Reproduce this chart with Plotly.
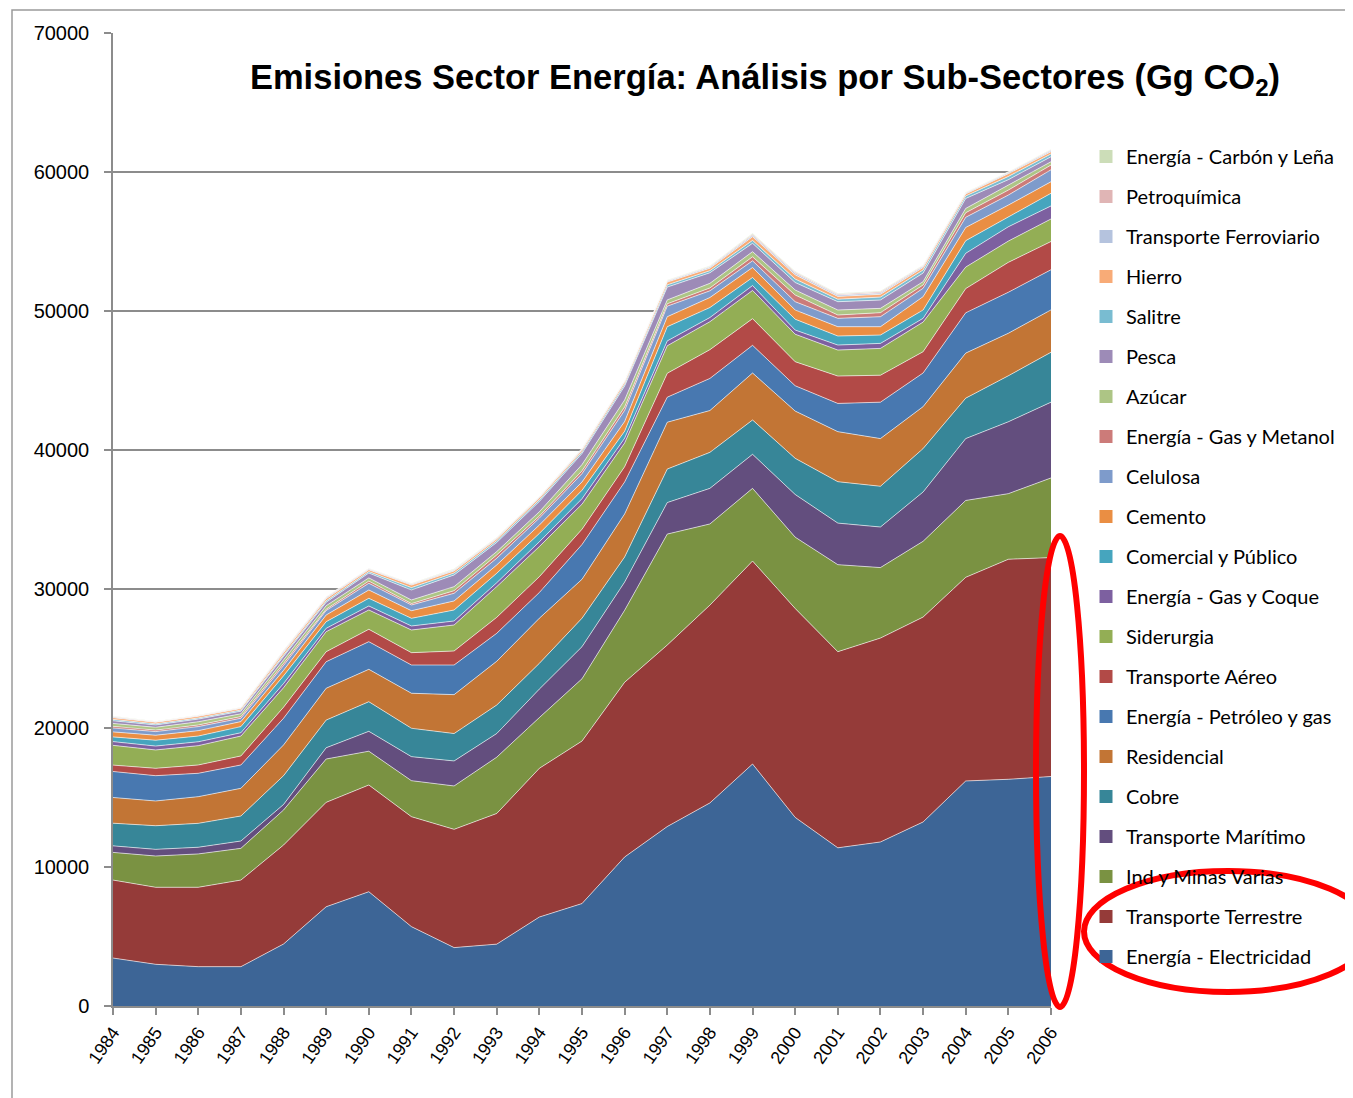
import plotly.graph_objects as go

years = list(range(1984, 2007))

# Series values (Gg CO2), bottom of the stack first
electricidad = [3450, 3000, 2830, 2830, 4460, 7140, 8220, 5710, 4200, 4450, 6400, 7370, 10720, 12910, 14610, 17410, 13570, 11380, 11800, 13240, 16190, 16310, 16510]
terrestre    = [5610, 5540, 5710, 6230, 7120, 7510, 7680, 7910, 8510, 9400, 10700, 11690, 12570, 13060, 14230, 14600, 15030, 14110, 14670, 14740, 14650, 15830, 15750]
ind_minas    = [1990, 2250, 2400, 2280, 2520, 3120, 2430, 2590, 3120, 4050, 3650, 4480, 5180, 7980, 5840, 5230, 5130, 6260, 5070, 5450, 5530, 4720, 5730]
maritimo     = [470, 480, 480, 530, 400, 810, 1430, 1730, 1800, 1700, 2050, 2310, 2030, 2270, 2560, 2450, 3070, 2990, 2920, 3550, 4450, 5170, 5450]
cobre        = [1630, 1700, 1720, 1800, 2070, 1990, 2130, 2040, 1970, 2050, 1850, 2050, 1800, 2410, 2590, 2470, 2600, 2980, 2930, 3120, 2910, 3310, 3590]
residencial  = [1850, 1780, 1920, 1990, 2210, 2290, 2330, 2520, 2800, 3150, 3250, 2800, 3100, 3370, 3010, 3380, 3400, 3600, 3430, 3020, 3240, 3060, 3050]
petroleo_gas = [1870, 1820, 1680, 1680, 1920, 1910, 1990, 2030, 2130, 2010, 1850, 2500, 2300, 1800, 2310, 1990, 1820, 2030, 2620, 2420, 2900, 2950, 2890]
aereo        = [460, 530, 600, 650, 800, 720, 890, 890, 1010, 1150, 1140, 1100, 1100, 1720, 2070, 1920, 1730, 1970, 1940, 1530, 1740, 2150, 2030]
siderurgia   = [1420, 1320, 1390, 1430, 1400, 1440, 1390, 1630, 1870, 2210, 2160, 1800, 1700, 1980, 2010, 2030, 1980, 1870, 1930, 2130, 1550, 1530, 1620]
gas_coque    = [270, 280, 280, 240, 300, 240, 290, 290, 290, 280, 350, 400, 350, 350, 300, 350, 300, 360, 360, 270, 990, 1030, 940]
comercial    = [340, 420, 410, 440, 550, 480, 550, 550, 790, 680, 600, 600, 500, 1020, 720, 580, 780, 650, 600, 600, 910, 720, 910]
cemento      = [360, 360, 390, 360, 400, 480, 600, 550, 650, 600, 600, 600, 700, 720, 720, 720, 660, 670, 600, 960, 950, 840, 830]
celulosa     = [280, 260, 290, 240, 350, 320, 480, 410, 550, 480, 500, 600, 800, 760, 480, 480, 600, 600, 720, 600, 730, 720, 860]
gas_metanol  = [120, 110, 120, 120, 150, 100, 160, 100, 190, 240, 150, 200, 250, 170, 210, 290, 480, 240, 290, 240, 330, 360, 340]
azucar       = [210, 200, 230, 200, 250, 250, 230, 260, 290, 240, 310, 450, 500, 280, 330, 370, 360, 360, 310, 240, 310, 360, 240]
pesca        = [190, 170, 190, 190, 250, 250, 350, 720, 840, 660, 740, 800, 1000, 920, 760, 600, 540, 600, 600, 620, 720, 390, 360]
salitre      = [100, 80, 80, 80, 100, 100, 100, 170, 140, 130, 120, 130, 150, 160, 150, 210, 250, 180, 210, 220, 180, 230, 200]
hierro       = [120, 110, 120, 110, 170, 150, 130, 180, 150, 120, 130, 120, 150, 200, 180, 270, 300, 200, 200, 180, 140, 200, 160]
ferroviario  = [60, 30, 40, 40, 70, 70, 50, 60, 60, 50, 50, 50, 50, 70, 80, 100, 120, 100, 100, 90, 60, 70, 80]
petroquimica = [35, 20, 30, 30, 60, 50, 40, 40, 40, 40, 30, 40, 30, 40, 50, 80, 80, 70, 80, 50, 30, 40, 60]
carbon_lena  = [25, 20, 20, 20, 50, 30, 30, 30, 50, 30, 30, 30, 20, 40, 40, 60, 60, 50, 60, 40, 30, 30, 40]

series_names = [
    "Energía - Electricidad", "Transporte Terrestre", "Ind y Minas Varias",
    "Transporte Marítimo", "Cobre", "Residencial", "Energía - Petróleo y gas",
    "Transporte Aéreo", "Siderurgia", "Energía - Gas y Coque",
    "Comercial y Público", "Cemento", "Celulosa", "Energía - Gas y Metanol",
    "Azúcar", "Pesca", "Salitre", "Hierro", "Transporte Ferroviario",
    "Petroquímica", "Energía - Carbón y Leña",
]
series_values = [
    electricidad, terrestre, ind_minas, maritimo, cobre, residencial,
    petroleo_gas, aereo, siderurgia, gas_coque, comercial, cemento, celulosa,
    gas_metanol, azucar, pesca, salitre, hierro, ferroviario, petroquimica,
    carbon_lena,
]
series_colors = [
    "#3D6596", "#953B39", "#7A9242", "#634E7E", "#378698", "#C27535",
    "#4878B0", "#B24A47", "#93AE55", "#7D60A0", "#46A5BE", "#EA8E43",
    "#7E9BCB", "#CC7B79", "#ADC585", "#9D8BB7", "#79BCD1", "#F8AB77",
    "#B5C3DE", "#E0B5B5", "#CCDDB8",
]

n = len(series_names)
fig = go.Figure()
for i, (name, vals, col) in enumerate(zip(series_names, series_values, series_colors)):
    fig.add_trace(go.Scatter(
        x=years, y=vals, name=name, mode="lines", stackgroup="one",
        fillcolor=col, line=dict(width=0.8, color="rgba(255,255,255,0.75)"),
        legendgroup=f"g{i}", showlegend=False,
    ))
# legend keys (square swatches), top entry = last stacked series
for i, (name, col) in enumerate(zip(series_names, series_colors)):
    fig.add_trace(go.Scatter(
        x=[None], y=[None], name=name, mode="markers",
        marker=dict(symbol="square", size=13, color=col),
        legendgroup=f"g{i}", legendrank=n - i, showlegend=True,
    ))

W, H = 1353, 1098
OFF = 8  # page offset of the figure inside the browser page
PL, PR, PT, PB = 113, 1051, 33, 1006  # plot area in page pixels


def px(x):
    return (x - PL) / (PR - PL)


def py(y):
    return (PB - y) / (PB - PT)


shapes = [
    # outer frame of the chart object
    dict(type="rect", xref="paper", yref="paper", x0=px(12), x1=px(1420),
         y0=py(1160), y1=py(10), line=dict(color="#9a9a9a", width=1.5),
         fillcolor="rgba(0,0,0,0)", layer="below"),
    # light blue blob top right
    dict(type="circle", xref="paper", yref="paper", x0=px(1284), x1=px(1600),
         y0=py(24), y1=py(-140), line=dict(width=0), fillcolor="#e2eaf8"),
    # red highlight ellipses
    dict(type="circle", xref="paper", yref="paper", x0=px(1036), x1=px(1084),
         y0=py(1007), y1=py(536), line=dict(color="#ff0000", width=6)),
    dict(type="circle", xref="paper", yref="paper", x0=px(1084), x1=px(1372),
         y0=py(992), y1=py(871), line=dict(color="#ff0000", width=6)),
]

fig.update_layout(
    width=W, height=H,
    margin=dict(l=PL - OFF, r=W - (PR - OFF), t=PT - OFF, b=H - (PB - OFF)),
    paper_bgcolor="white", plot_bgcolor="white",
    showlegend=True,
    legend=dict(
        x=px(1086), y=py(137), xanchor="left", yanchor="top",
        traceorder="grouped", tracegroupgap=11,
        font=dict(family="Lato, Noto Sans, sans-serif", size=20, color="#000000"),
        bgcolor="rgba(0,0,0,0)",
    ),
    title=dict(
        text="<b>Emisiones Sector Energía: Análisis por Sub-Sectores (Gg CO<sub>2</sub>)</b>",
        x=(765 - OFF) / W, xref="container", xanchor="center",
        y=1 - (77 - OFF) / H, yref="container", yanchor="middle",
        font=dict(family="Liberation Sans, Arial, sans-serif", size=34.5, color="#000000"),
    ),
    xaxis=dict(
        range=[1984, 2006], tickmode="array", tickvals=years,
        ticktext=[str(y) for y in years], tickangle=-55,
        ticks="outside", ticklen=7, tickcolor="#8c8c8c", tickwidth=1.5,
        showline=True, linecolor="#8c8c8c", linewidth=1.5,
        showgrid=False, zeroline=False,
        tickfont=dict(family="Liberation Sans, Arial, sans-serif", size=18, color="#000000"),
    ),
    yaxis=dict(
        range=[0, 70000], dtick=10000, tick0=0,
        ticks="outside", ticklen=7, tickcolor="#8c8c8c", tickwidth=1.5,
        showline=True, linecolor="#8c8c8c", linewidth=1.5,
        showgrid=True, gridcolor="#8c8c8c", gridwidth=1.5, zeroline=False,
        tickfont=dict(family="Liberation Sans, Arial, sans-serif", size=20, color="#000000"),
        tickformat="d", ticklabelstandoff=11,
    ),
    shapes=shapes,
)

fig.write_html("out.html")
